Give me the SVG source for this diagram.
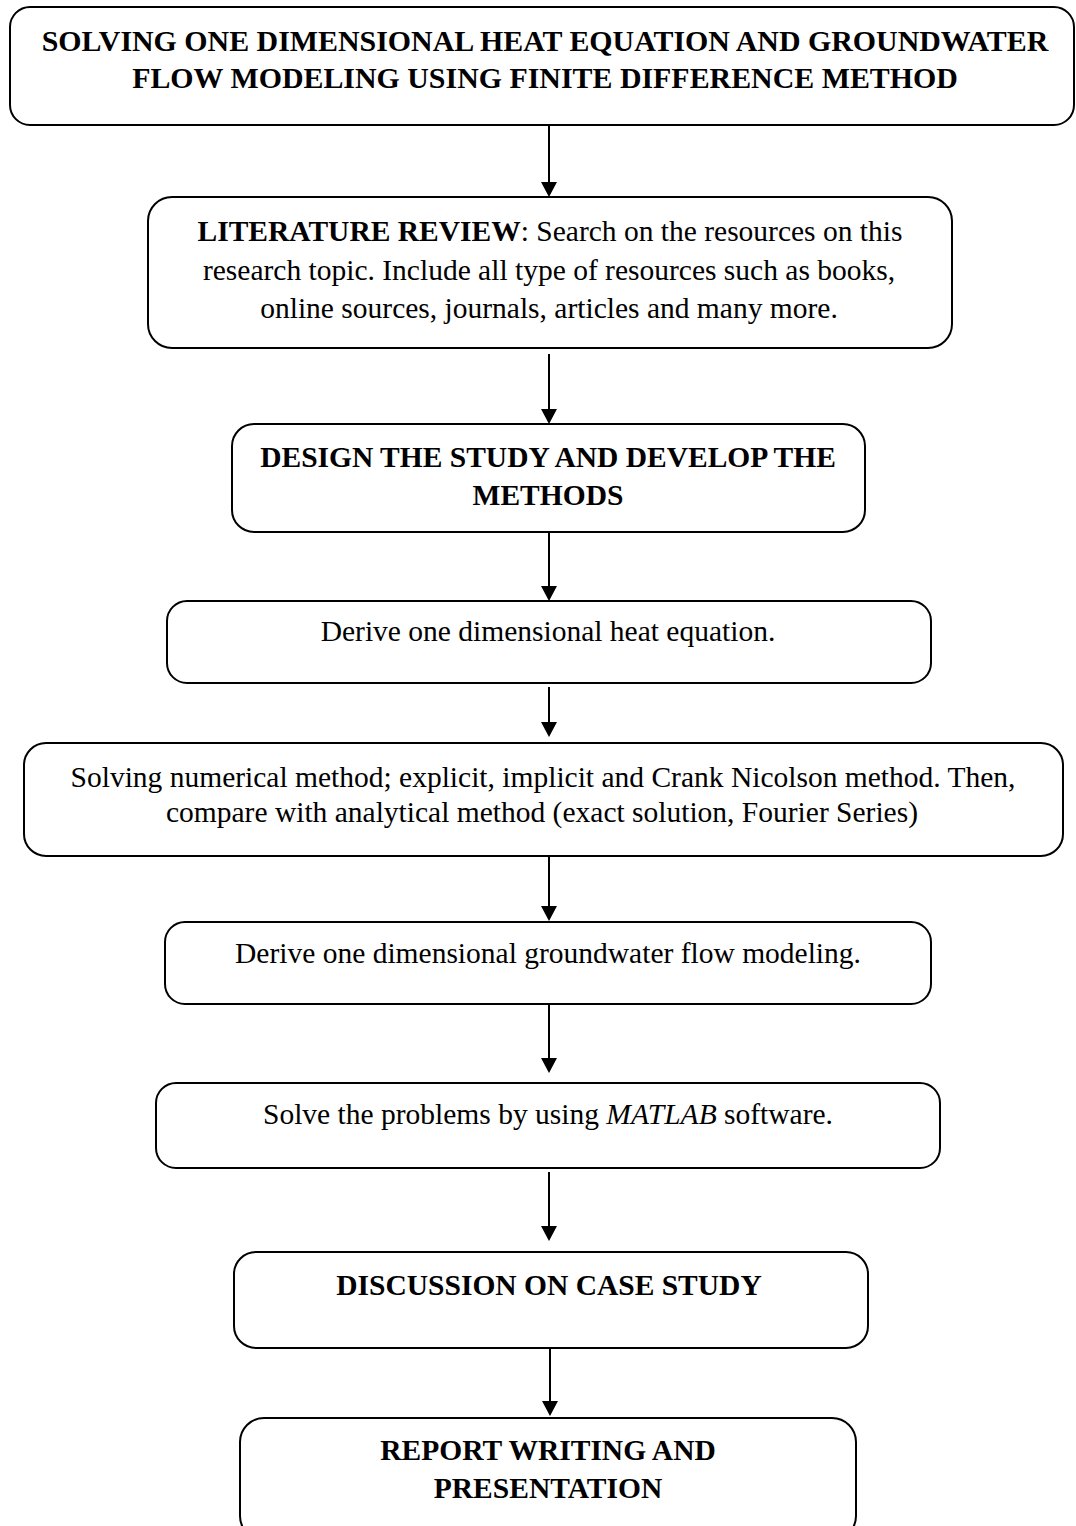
<svg xmlns="http://www.w3.org/2000/svg" width="1076" height="1526" viewBox="0 0 1076 1526">
<style>
.box{fill:#fff;stroke:#000;stroke-width:2}
.t{font-family:"Liberation Serif","Times New Roman",serif;font-size:29.5px;fill:#000;text-anchor:middle}
.b{font-weight:bold}
.big{font-size:29.9px}
.conn{stroke:#000;stroke-width:2;fill:none}
</style>
<defs>
<marker id="ah" markerUnits="userSpaceOnUse" markerWidth="16" markerHeight="16" viewBox="0 0 15 16" refX="0" refY="8" orient="auto">
<path d="M0,0 L15,8 L0,16 z" fill="#000"/>
</marker>
</defs>
<rect width="1076" height="1526" fill="#fff"/>
<g id="connectors">
<line class="conn" x1="549" y1="125" x2="549" y2="182" marker-end="url(#ah)"/>
<line class="conn" x1="549" y1="354" x2="549" y2="409" marker-end="url(#ah)"/>
<line class="conn" x1="549" y1="532" x2="549" y2="586" marker-end="url(#ah)"/>
<line class="conn" x1="549" y1="687" x2="549" y2="722" marker-end="url(#ah)"/>
<line class="conn" x1="549" y1="856" x2="549" y2="906" marker-end="url(#ah)"/>
<line class="conn" x1="549" y1="1004" x2="549" y2="1058" marker-end="url(#ah)"/>
<line class="conn" x1="549" y1="1172" x2="549" y2="1226" marker-end="url(#ah)"/>
<line class="conn" x1="550" y1="1348" x2="550" y2="1401" marker-end="url(#ah)"/>
</g>
<g id="title">
<rect class="box" x="10" y="7" width="1064" height="118" rx="20"/>
<text class="t b big" x="545" y="51">SOLVING ONE DIMENSIONAL HEAT EQUATION AND GROUNDWATER</text>
<text class="t b big" x="545" y="88">FLOW MODELING USING FINITE DIFFERENCE METHOD</text>
</g>
<g id="literature">
<rect class="box" x="148" y="197" width="804" height="151" rx="24"/>
<text class="t" x="550" y="241"><tspan class="b">LITERATURE REVIEW</tspan>: Search on the resources on this</text>
<text class="t" x="549" y="280">research topic. Include all type of resources such as books,</text>
<text class="t" x="549" y="318">online sources, journals, articles and many more.</text>
</g>
<g id="design">
<rect class="box" x="232" y="424" width="633" height="108" rx="22"/>
<text class="t b" x="548" y="467">DESIGN THE STUDY AND DEVELOP THE</text>
<text class="t b" x="548" y="505">METHODS</text>
</g>
<g id="heat">
<rect class="box" x="167" y="601" width="764" height="82" rx="20"/>
<text class="t" x="548" y="641">Derive one dimensional heat equation.</text>
</g>
<g id="numerical">
<rect class="box" x="24" y="743" width="1039" height="113" rx="22"/>
<text class="t" x="543" y="787">Solving numerical method; explicit, implicit and Crank Nicolson method. Then,</text>
<text class="t" x="542" y="822">compare with analytical method (exact solution, Fourier Series)</text>
</g>
<g id="groundwater">
<rect class="box" x="165" y="922" width="766" height="82" rx="20"/>
<text class="t" x="548" y="963">Derive one dimensional groundwater flow modeling.</text>
</g>
<g id="matlab">
<rect class="box" x="156" y="1083" width="784" height="85" rx="20"/>
<text class="t" x="548" y="1124">Solve the problems by using <tspan font-style="italic">MATLAB</tspan> software.</text>
</g>
<g id="discussion">
<rect class="box" x="234" y="1252" width="634" height="96" rx="22"/>
<text class="t b" x="549" y="1295">DISCUSSION ON CASE STUDY</text>
</g>
<g id="report">
<rect class="box" x="240" y="1418" width="616" height="122" rx="24"/>
<text class="t b" x="548" y="1460">REPORT WRITING AND</text>
<text class="t b" x="548" y="1498">PRESENTATION</text>
</g>
</svg>
